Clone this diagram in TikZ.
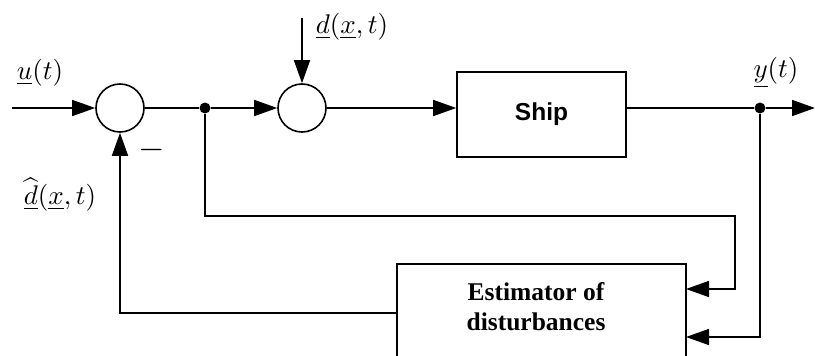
\documentclass[tikz,border=0pt]{standalone}
\usepackage{fontspec}
\newfontfamily\arialfont{Liberation Sans}
\newfontfamily\timesfont{Liberation Serif}
\usetikzlibrary{arrows.meta}
\begin{document}
\begin{tikzpicture}[x=1pt,y=-1pt,
  line width=1.6pt,
  >={Triangle[length=23pt,width=16pt]},
  sumc/.style={circle,draw,inner sep=0pt,minimum size=48pt},
  blockbox/.style={rectangle,draw,inner sep=0pt},
  dotc/.style={circle,fill,inner sep=0pt,minimum size=11pt},
  lbl/.style={inner sep=0pt,scale=2.7,transform shape}
]
\useasboundingbox (0,0) rectangle (815,356);
\clip (0,0) rectangle (815,356);
% nodes
\node[sumc] (s1) at (120,108) {};
\node[sumc] (s2) at (302,108) {};
\node[dotc] (dot1) at (205,108) {};
\node[blockbox,minimum width=169pt,minimum height=85pt] (ship) at (541.5,114.5) {};
\node[inner sep=0pt,font=\arialfont\bfseries\fontsize{24.5}{28}\selectfont] (shiptext) at (541.5,114) {Ship};
\node[dotc] (dot2) at (760,108) {};
\node[blockbox,minimum width=289pt,minimum height=120pt] (est) at (541.5,324) {};
\node[inner sep=0pt,align=center,font=\timesfont\bfseries\fontsize{25.5}{30}\selectfont] (esttext) at (536,307) {Estimator of\\disturbances};
% free ends
\coordinate (in) at (12,108);
\coordinate (dtop) at (302,18);
\coordinate (out) at (815,108);
\coordinate (c1) at (205,216);
\coordinate (c2) at (735,216);
\coordinate (c3) at (735,289);
\coordinate (e1) at (686,289);
\coordinate (c4) at (760,337);
\coordinate (e2) at (686,337);
\coordinate (e3) at (397,313);
\coordinate (c5) at (120,313);
% connectors
\draw[->] (in) -- (s1.west);
\draw (s1.east) -- (dot1);
\draw[->] (dot1) -- (s2.west);
\draw[->] (dtop) -- (s2.north);
\draw[->] (s2.east) -- (s2.east -| ship.west);
\draw (dot2 -| ship.east) -- (dot2);
\draw[->] (dot2) -- (out);
\draw[->] (dot1) -- (c1) -- (c2) -- (c3) -- (e1);
\draw[->] (dot2) -- (c4) -- (e2);
\draw[->] (e3) -- (c5) -- (s1.south);
% labels
\node[lbl] (lu) at (40,73) {$\underline{u}(t)$};
\node[lbl] (ld) at (352,27) {$\underline{d}(\underline{x},t)$};
\node[lbl] (ly) at (776,73) {$\underline{y}(t)$};
\node[lbl] (ldh) at (60,195) {$\widehat{\underline{d}}(\underline{x},t)$};
\node[inner sep=0pt,scale=3.4,transform shape] (lm) at (152,150) {$-$};
\end{tikzpicture}
\end{document}
